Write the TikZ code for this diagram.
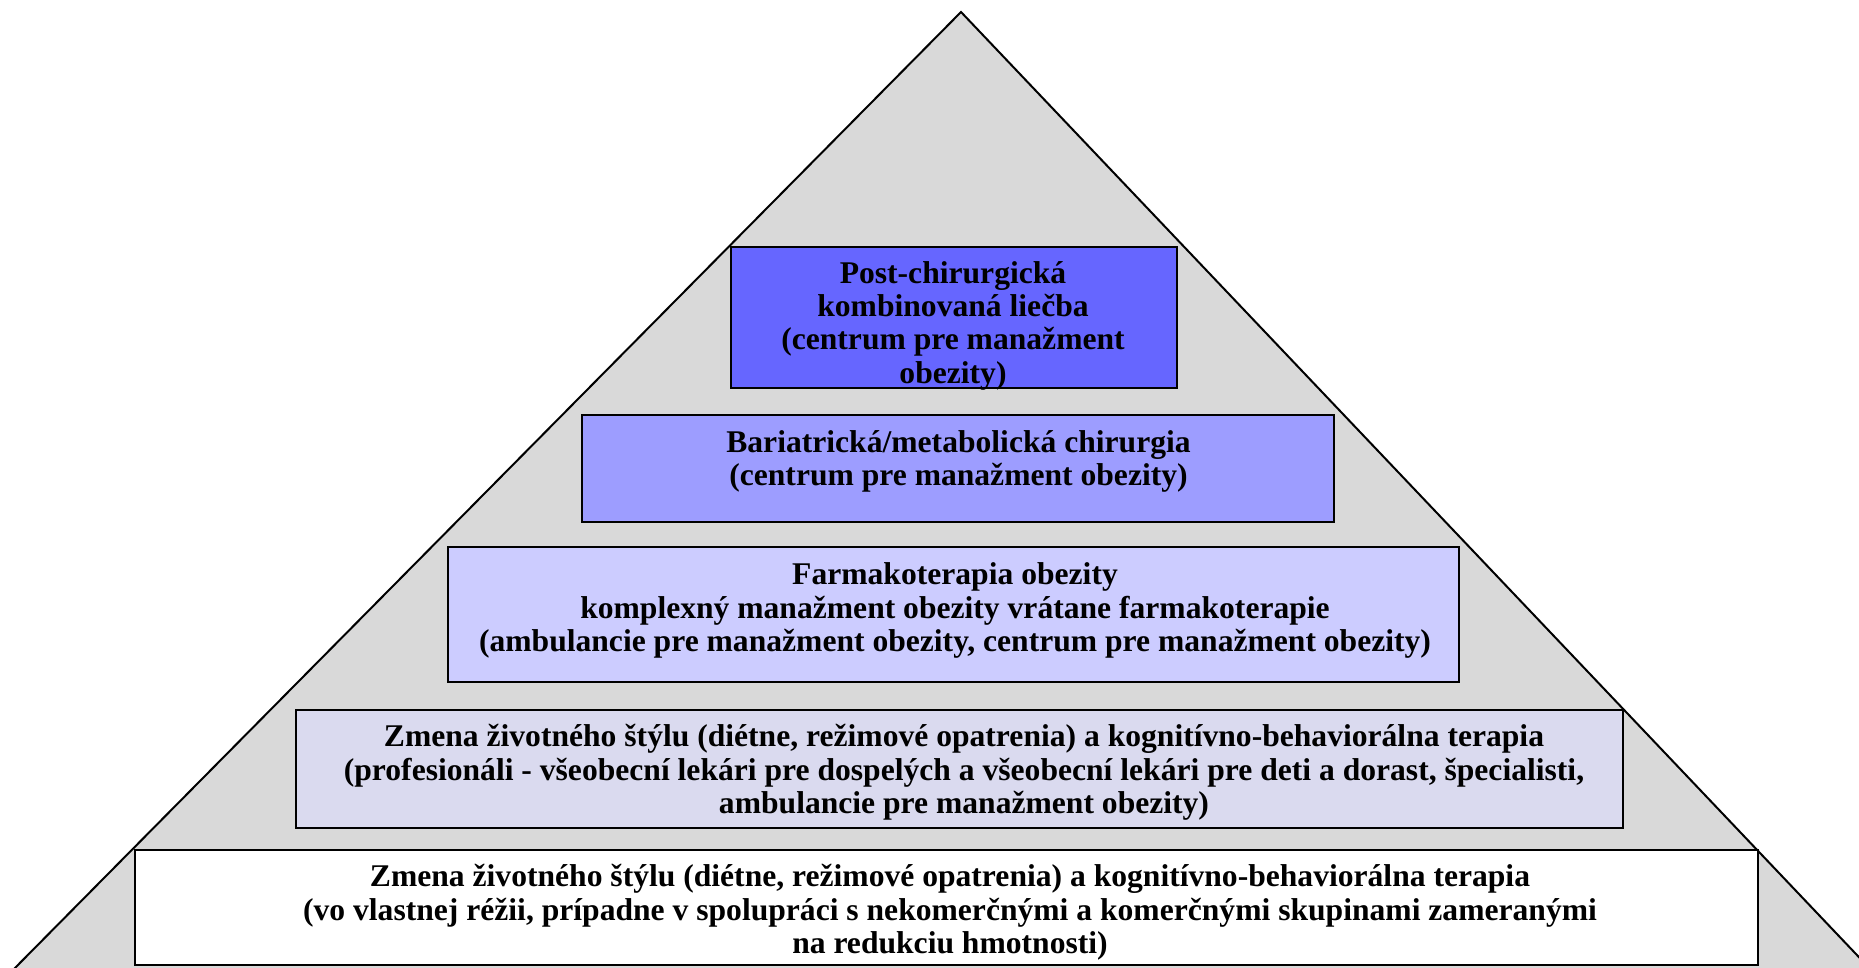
\documentclass[tikz,border=0pt]{standalone}
\usepackage{fontspec}
\setmainfont{Liberation Serif}
\definecolor{trifill}{HTML}{D9D9D9}
\definecolor{lvlA}{HTML}{6666FF}
\definecolor{lvlB}{HTML}{9D9DFF}
\definecolor{lvlC}{HTML}{CCCCFF}
\definecolor{lvlD}{HTML}{DADAEF}
\definecolor{lvlE}{HTML}{FFFFFF}
\tikzset{
  levelbox/.style={draw=black, line width=2.4pt, rectangle, inner sep=0pt},
  leveltext/.style={align=center, inner sep=0pt, font=\bfseries\fontsize{31.6}{33.3}\selectfont},
}
\begin{document}
\begin{tikzpicture}[x=1pt, y=-1pt]
\useasboundingbox (0,0) rectangle (1859,968);
\begin{scope}
\clip (0,0) rectangle (1859,968);
\coordinate (apex) at (961,12);
\coordinate (bl) at (10,973);
\coordinate (br) at (1874,973);
\draw[fill=trifill, line width=2pt, line join=miter] (bl) -- (apex) -- (br);
\end{scope}

\node[levelbox, fill=lvlA, minimum width=446pt, minimum height=141pt] (b1) at (954,317.5) {};
\node[levelbox, fill=lvlB, minimum width=752pt, minimum height=107pt] (b2) at (958,468.5) {};
\node[levelbox, fill=lvlC, minimum width=1011pt, minimum height=135pt] (b3) at (953.5,614.5) {};
\node[levelbox, fill=lvlD, minimum width=1327pt, minimum height=118pt] (b4) at (959.5,769) {};
\node[levelbox, fill=lvlE, minimum width=1623pt, minimum height=115pt] (b5) at (946.5,907.5) {};

\node[leveltext] (t1) at (953,325.5) {Post-chirurgická\\kombinovaná liečba\\(centrum pre manažment\\obezity)};
\node[leveltext] (t2) at (958.5,461.5) {Bariatrická/metabolická chirurgia\\(centrum pre manažment obezity)};
\node[leveltext] (t3) at (955,610.5) {Farmakoterapia obezity\\komplexný manažment obezity vrátane farmakoterapie\\(ambulancie pre manažment obezity, centrum pre manažment obezity)};
\node[leveltext] (t4) at (964,772.5) {Zmena životného štýlu (diétne, režimové opatrenia) a kognitívno-behaviorálna terapia\\(profesionáli - všeobecní lekári pre dospelých a všeobecní lekári pre deti a dorast, špecialisti,\\ambulancie pre manažment obezity)};
\node[leveltext] (t5) at (950,912.5) {Zmena životného štýlu (diétne, režimové opatrenia) a kognitívno-behaviorálna terapia\\(vo vlastnej réžii, prípadne v spolupráci s nekomerčnými a komerčnými skupinami zameranými\\na redukciu hmotnosti)};
\end{tikzpicture}
\end{document}
